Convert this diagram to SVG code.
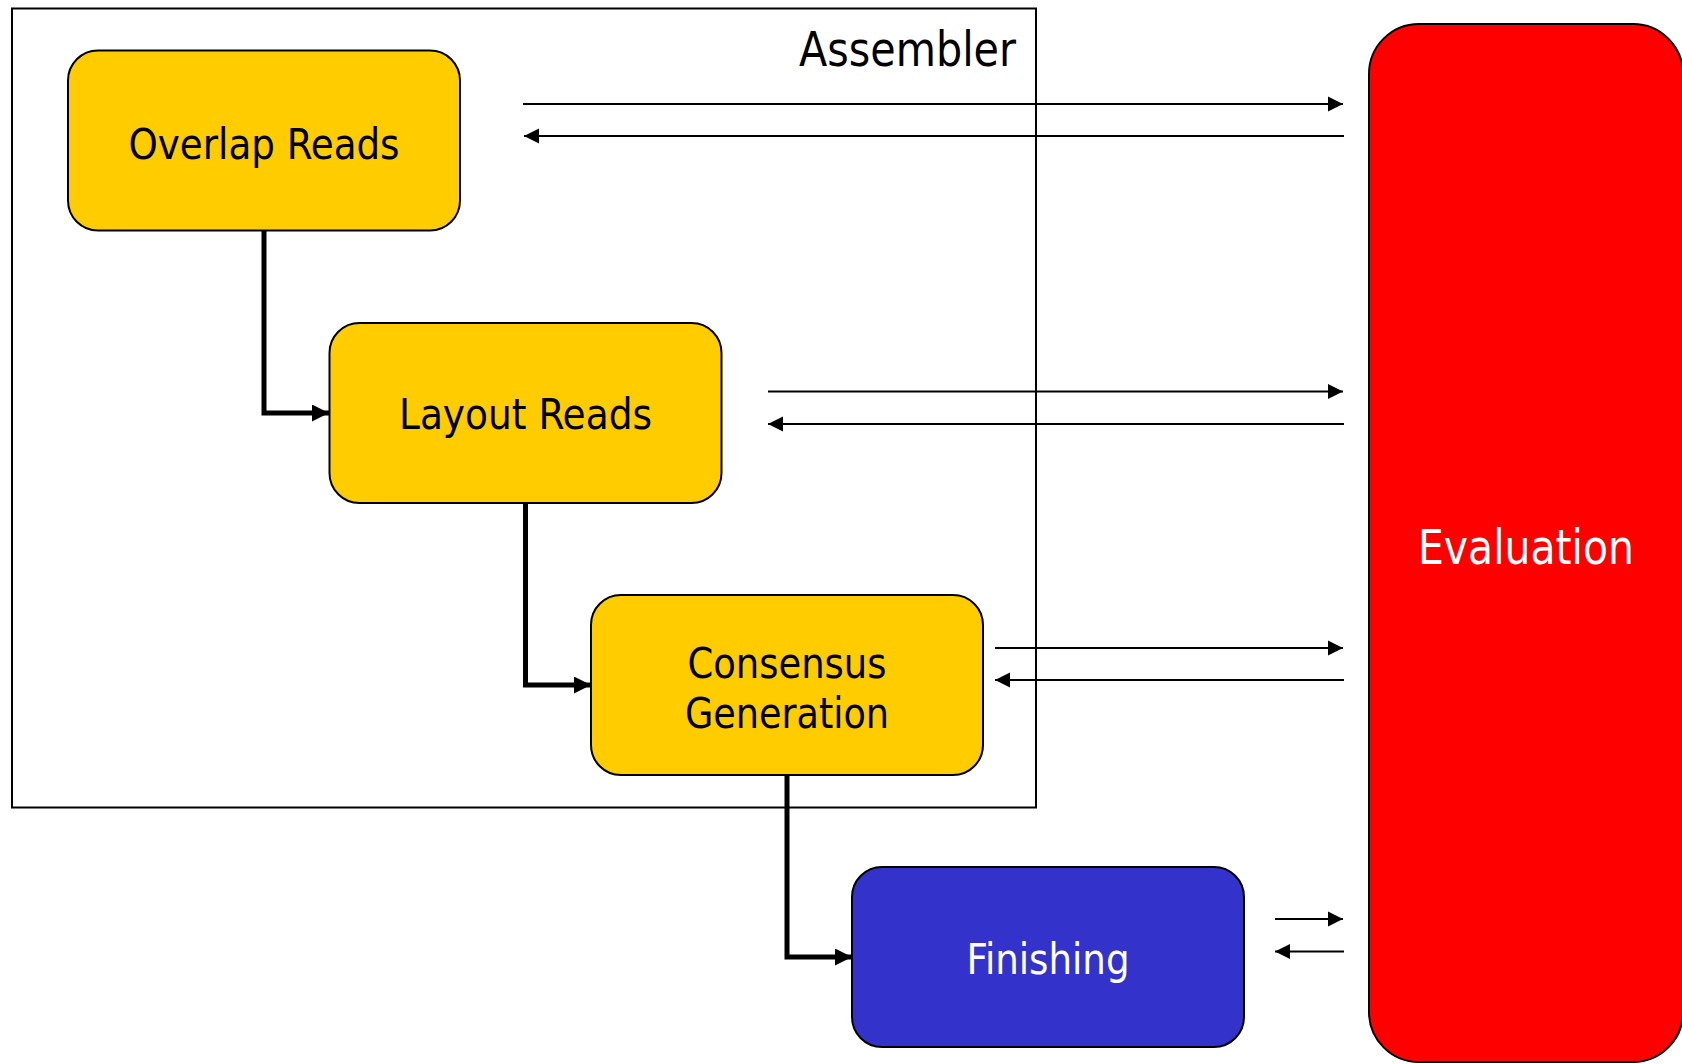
<svg xmlns="http://www.w3.org/2000/svg" width="1682" height="1064" viewBox="0 0 1682 1064">
  <defs>
    <marker id="headThick" viewBox="0 0 10 10" refX="10" refY="5" markerWidth="17" markerHeight="17" markerUnits="userSpaceOnUse" orient="auto">
      <path d="M0,0 L10,5 L0,10 z" fill="#000"/>
    </marker>
    <marker id="headThin" viewBox="0 0 10 10" refX="10" refY="5" markerWidth="15" markerHeight="15.5" markerUnits="userSpaceOnUse" orient="auto">
      <path d="M0,0 L10,5 L0,10 z" fill="#000"/>
    </marker>
  </defs>
  <style>
    .label { font-family: "DejaVu Sans Condensed", "DejaVu Sans", sans-serif; text-anchor: middle; }
    .box { stroke: #000; stroke-width: 2; }
    .step { fill: #FFCC00; }
    .dark { fill: #000; }
    .light { fill: #FFF; }
  </style>
  <rect width="1682" height="1064" fill="#FFF"/>

  <!-- assembler frame -->
  <g id="assembler">
    <rect x="12" y="8.5" width="1024" height="799" fill="none" stroke="#000" stroke-width="2"/>
    <text x="1016" y="66" font-family="DejaVu Sans Condensed, DejaVu Sans, sans-serif" font-size="48" text-anchor="end" textLength="217" lengthAdjust="spacingAndGlyphs" fill="#000">Assembler</text>
  </g>

  <!-- evaluation column -->
  <g id="evaluation">
    <rect class="box" x="1369" y="24" width="314" height="1038" rx="50" fill="#FF0000"/>
    <text class="label light" x="1526" y="564" font-size="48" textLength="216" lengthAdjust="spacingAndGlyphs">Evaluation</text>
  </g>

  <!-- pipeline steps -->
  <g id="overlap-reads">
    <rect class="box step" x="68" y="50.5" width="392" height="180" rx="30"/>
    <text class="label dark" x="264" y="159" font-size="43" textLength="271" lengthAdjust="spacingAndGlyphs">Overlap Reads</text>
  </g>
  <g id="layout-reads">
    <rect class="box step" x="329.5" y="323" width="392" height="180" rx="30"/>
    <text class="label dark" x="525.5" y="429" font-size="43" textLength="253" lengthAdjust="spacingAndGlyphs">Layout Reads</text>
  </g>
  <g id="consensus-generation">
    <rect class="box step" x="591" y="595" width="392" height="180" rx="30"/>
    <text class="label dark" x="787" y="678" font-size="43" textLength="199" lengthAdjust="spacingAndGlyphs">Consensus</text>
    <text class="label dark" x="787" y="728" font-size="43" textLength="204" lengthAdjust="spacingAndGlyphs">Generation</text>
  </g>
  <g id="finishing">
    <rect class="box" x="852" y="867" width="392" height="180" rx="30" fill="#3333CC"/>
    <text class="label light" x="1048" y="974" font-size="43" textLength="163" lengthAdjust="spacingAndGlyphs">Finishing</text>
  </g>

  <!-- connectors -->
  <g id="connectors" fill="none" stroke="#000">
    <g stroke-width="5" marker-end="url(#headThick)">
      <path d="M264,231 V413 H329"/>
      <path d="M525.5,503 V685 H591"/>
      <path d="M787,775 V957 H852"/>
    </g>
    <g stroke-width="2" marker-end="url(#headThin)">
      <path d="M523,104 H1343"/>
      <path d="M1344,136 H524"/>
      <path d="M768,391.5 H1343"/>
      <path d="M1344,424 H768"/>
      <path d="M995,648 H1343"/>
      <path d="M1344,680 H995"/>
      <path d="M1275,919 H1343"/>
      <path d="M1344,951.5 H1275"/>
    </g>
  </g>
</svg>
